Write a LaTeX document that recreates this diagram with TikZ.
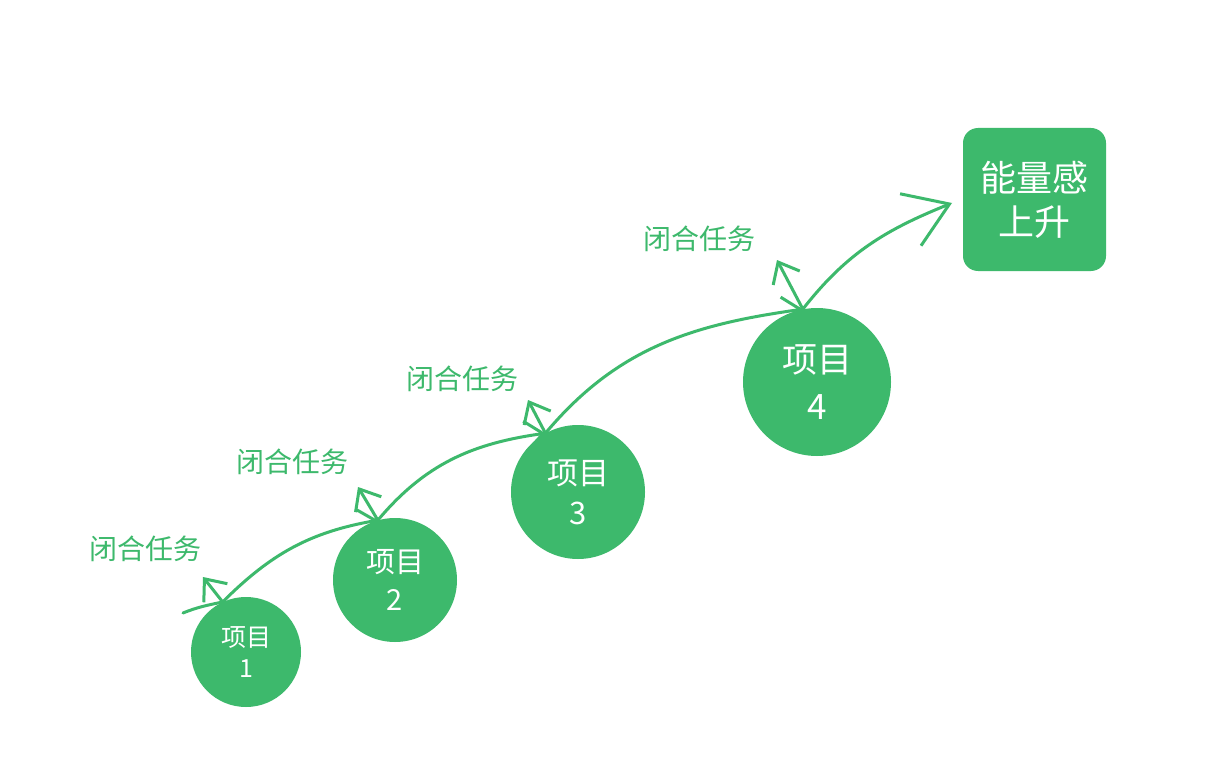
\documentclass[tikz,border=0pt]{standalone}
\usepackage{fontspec}
\setmainfont{Noto Sans CJK SC}
\usetikzlibrary{arrows.meta}
\definecolor{gr}{RGB}{61,185,108}
\begin{document}
\begin{tikzpicture}[x=1pt,y=1pt,
  proj/.style={circle,fill=gr,text=white,inner sep=0pt,align=center},
  lbl/.style={text=gr,font=\fontsize{28}{30}\selectfont,inner sep=0pt},
  flow/.style={draw=gr,line width=3pt,line cap=round,line join=round,
    -{Straight Barb[length=18pt,width=30pt,line width=3pt]}},
  bigflow/.style={draw=gr,line width=3pt,line cap=round,line join=round,
    -{Straight Barb[length=42pt,width=56pt,line width=3pt]}},
  plain/.style={draw=gr,line width=3pt,line cap=round}]
\useasboundingbox (0,0) rectangle (1218,-778);
\fill[white] (0,0) rectangle (1218,-778);

\node[proj,minimum size=110pt,font=\fontsize{25}{31}\selectfont] (p1) at (246,-652) {项目\\1};
\node[proj,minimum size=124pt,font=\fontsize{29}{38}\selectfont] (p2) at (395,-580) {项目\\2};
\node[proj,minimum size=134pt,font=\fontsize{31}{40}\selectfont] (p3) at (578,-492) {项目\\3};
\node[proj,minimum size=148pt,font=\fontsize{35}{47}\selectfont] (p4) at (817,-382) {项目\\4};
\node[fill=gr,rounded corners=15pt,minimum size=143pt,inner sep=0pt,text=white,
  align=center,font=\fontsize{36}{44}\selectfont] (goal) at (1034.5,-199.5) {能量感\\上升};

\node[lbl] (l1) at (145,-549) {闭合任务};
\node[lbl] (l2) at (292,-462) {闭合任务};
\node[lbl] (l3) at (462,-379) {闭合任务};
\node[lbl] (l4) at (699,-239) {闭合任务};

\coordinate (s) at (183,-613);
\coordinate (e) at (952,-203);
\coordinate (u1) at (203,-577);
\coordinate (u2) at (358,-487);
\coordinate (u3) at (528,-400);
\coordinate (u4) at (777,-260);

\draw[plain] (s) to[out=22,in=192] (p1.115);
\draw[flow] (p1.115) to[out=45,in=190] (p2.106);
\draw[flow] (p2.106) to[out=50,in=188] (p3.119);
\draw[flow] (p3.119) to[out=50,in=188] (p4.101);
\draw[bigflow] (p4.101) to[out=52,in=202] (e);

\draw[flow] (p1.115) -- (u1);
\draw[flow] (p2.106) -- (u2);
\draw[flow] (p3.119) -- (u3);
\draw[flow] (p4.101) -- (u4);
\end{tikzpicture}
\end{document}
